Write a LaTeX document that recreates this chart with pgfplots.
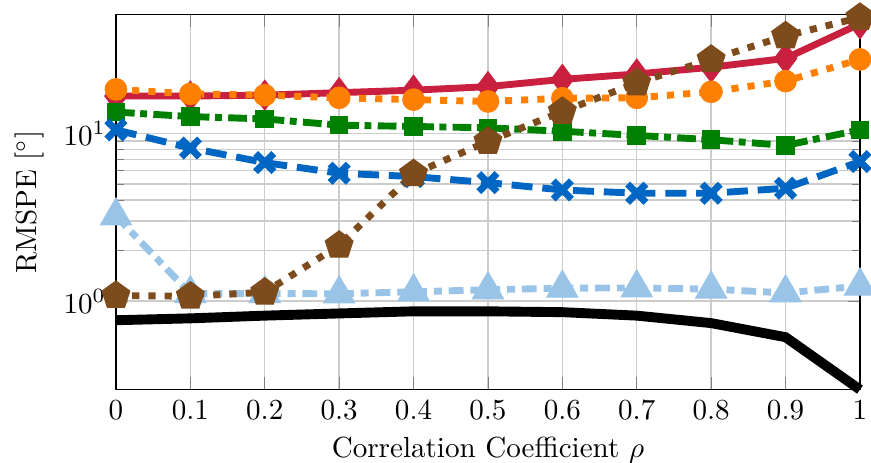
\documentclass[border=0pt]{standalone}
\usepackage{pgfplots}
\pgfplotsset{compat=1.18}
\usetikzlibrary{plotmarks}
\definecolor{cred}{RGB}{201,32,63}
\definecolor{corange}{RGB}{255,128,0}
\definecolor{cgreen}{RGB}{0,128,0}
\definecolor{cblue}{RGB}{0,102,196}
\definecolor{clblue}{RGB}{153,196,232}
\definecolor{cbrown}{RGB}{126,76,28}
\begin{document}
\begin{tikzpicture}
\begin{axis}[
  scale only axis,
  width=256pt, height=129pt,
  xmin=0, xmax=1,
  ymode=log, ymin=0.297, ymax=51,
  xtick={0,0.1,0.2,0.3,0.4,0.5,0.6,0.7,0.8,0.9,1},
  xticklabels={0,0.1,0.2,0.3,0.4,0.5,0.6,0.7,0.8,0.9,1},
  ytick={1,10},
  yticklabels={$10^0$,$10^1$},
  xmajorgrids, ymajorgrids, yminorgrids,
  grid style={gray!40, line width=0.5pt},
  minor grid style={gray!40, line width=0.5pt},
  xlabel={Correlation Coefficient $\rho$},
  xlabel style={yshift=1pt},
  ylabel={RMSPE $[^\circ]$},
  clip=false,
]
\coordinate (sw) at (rel axis cs:0,0);
\coordinate (ne) at (rel axis cs:1,1);
\addplot[cred, line width=2.37pt, mark=diamond*, mark size=5.1pt, mark options={solid, fill=cred, line width=0.4pt}] coordinates {
(0,16.7) (0.1,16.7) (0.2,16.9) (0.3,17.5) (0.4,18.1) (0.5,19.0) (0.6,21.0) (0.7,22.6) (0.8,24.8) (0.9,28.0) (1,45.0)};
\addplot[corange, line width=2.37pt, dash pattern=on 2.46pt off 3.12pt, mark=*, mark size=3.7pt, mark options={solid, fill=corange, line width=0.4pt}] coordinates {
(0,18.3) (0.1,17.2) (0.2,16.9) (0.3,16.3) (0.4,15.9) (0.5,15.5) (0.6,16.2) (0.7,16.3) (0.8,17.7) (0.9,20.5) (1,27.6)};
\addplot[cgreen, line width=2.37pt, dash pattern=on 6.44pt off 1.9pt on 2.37pt off 2.18pt, mark=square*, mark size=3.0pt, mark options={solid, fill=cgreen, line width=0.4pt}] coordinates {
(0,13.4) (0.1,12.6) (0.2,12.2) (0.3,11.2) (0.4,11.0) (0.5,10.8) (0.6,10.3) (0.7,9.73) (0.8,9.17) (0.9,8.48) (1,10.5)};
\addplot[cblue, line width=2.37pt, dash pattern=on 7.2pt off 3.4pt, mark=x, mark size=4.45pt, mark options={solid, line width=2.37pt}] coordinates {
(0,10.5) (0.1,8.18) (0.2,6.7) (0.3,5.79) (0.4,5.53) (0.5,5.09) (0.6,4.60) (0.7,4.40) (0.8,4.40) (0.9,4.71) (1,6.8)};
\addplot[clblue, line width=2.37pt, dash pattern=on 5.1pt off 2.37pt on 2.75pt off 2.37pt, mark=triangle*, mark size=6.15pt, mark options={solid, fill=clblue, line width=0.4pt}] coordinates {
(0,3.22) (0.1,1.11) (0.2,1.11) (0.3,1.107) (0.4,1.137) (0.5,1.17) (0.6,1.195) (0.7,1.20) (0.8,1.18) (0.9,1.12) (1,1.23)};
\addplot[cbrown, line width=2.37pt, dash pattern=on 2.46pt off 3.12pt, mark=pentagon*, mark size=5.0pt, mark options={solid, fill=cbrown, line width=0.4pt}] coordinates {
(0,1.08) (0.1,1.07) (0.2,1.13) (0.3,2.15) (0.4,5.74) (0.5,8.96) (0.6,13.5) (0.7,20.0) (0.8,27.6) (0.9,38.1) (1,49.1)};
\addplot[black, line width=3.4pt] coordinates {
(0,0.77) (0.1,0.79) (0.2,0.82) (0.3,0.845) (0.4,0.87) (0.5,0.87) (0.6,0.86) (0.7,0.82) (0.8,0.74) (0.9,0.61) (1,0.297)};
\end{axis}
\pgfresetboundingbox
\path[use as bounding box] ([shift={(-39.9pt,-25.1pt)}]sw) rectangle ([shift={(3.8pt,5.06pt)}]ne);
\end{tikzpicture}
\end{document}
